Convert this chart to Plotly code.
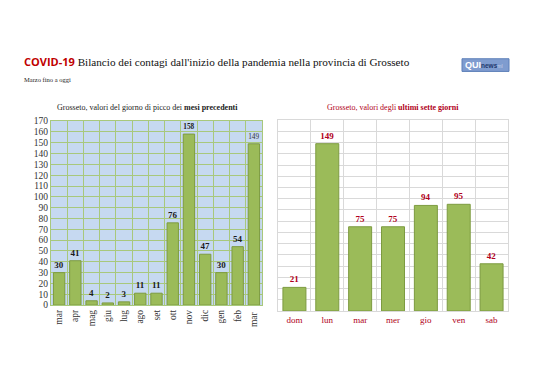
import plotly.graph_objects as go

# Data
months = ["mar", "apr", "mag", "giu", "lug", "ago", "set", "ott", "nov", "dic", "gen", "feb", "mar "]
month_values = [30, 41, 4, 2, 3, 11, 11, 76, 158, 47, 30, 54, 149]
days = ["dom", "lun", "mar", "mer", "gio", "ven", "sab"]
day_values = [21, 149, 75, 75, 94, 95, 42]

W, H = 538, 380
BAR = "#9bbb59"
BAR_LINE = "#7d9b40"
DARKRED = "#b00020"
SERIF = "Liberation Serif, DejaVu Serif, serif"

def px(x):
    return x / W

def py(y):
    return 1 - y / H

month_text = ["<b>%d</b>" % v for v in month_values[:-1]] + ["<span style='color:#333333'>%d</span>" % month_values[-1]]

fig = go.Figure()
fig.add_trace(go.Bar(
    x=months, y=month_values, xaxis="x", yaxis="y",
    marker=dict(color=BAR, line=dict(color=BAR_LINE, width=1)),
    text=month_text, textposition="outside", cliponaxis=False,
    textfont=dict(family=SERIF, size=9, color="#1a1a1a"),
    showlegend=False, hoverinfo="x+y",
))
fig.add_trace(go.Bar(
    x=days, y=day_values, xaxis="x2", yaxis="y2",
    marker=dict(color=BAR, line=dict(color=BAR_LINE, width=1)),
    text=["<b>%d</b>" % v for v in day_values], textposition="outside", cliponaxis=False,
    textfont=dict(family=SERIF, size=9, color=DARKRED),
    showlegend=False, hoverinfo="x+y",
))

fig.update_layout(
    width=W, height=H,
    margin=dict(l=0, r=0, t=0, b=0),
    paper_bgcolor="white",
    plot_bgcolor="white",
    bargap=0.3,
    xaxis=dict(domain=[px(43), px(254)], anchor="y", type="category",
               tickson="boundaries", showgrid=True, gridcolor="#a8c87c", gridwidth=1,
               tickangle=-90, tickfont=dict(family=SERIF, size=9.5, color="#333333"),
               showline=True, linecolor="#a8c87c", mirror=True, ticks="", ticklen=0),
    yaxis=dict(domain=[py(300), py(111)], anchor="x", range=[0, 170], dtick=10,
               showgrid=True, gridcolor="#a8c87c", gridwidth=1,
               tickfont=dict(family=SERIF, size=9.5, color="#333333"),
               showline=True, linecolor="#a8c87c", mirror=True, zeroline=False, ticks=""),
    xaxis2=dict(domain=[px(270), px(500)], anchor="y2", type="category",
                tickson="boundaries", showgrid=True, gridcolor="#d9d9d9", gridwidth=1,
                tickfont=dict(family=SERIF, size=9, color=DARKRED),
                showline=True, linecolor="#d9d9d9", mirror=True, ticks=""),
    yaxis2=dict(domain=[py(306), py(110)], anchor="x2", range=[0, 170], dtick=10,
                showgrid=True, gridcolor="#d9d9d9", gridwidth=1, showticklabels=False,
                showline=True, linecolor="#d9d9d9", mirror=True, zeroline=False, ticks=""),
)

# blue background for left plot area
fig.add_shape(type="rect", xref="x domain", yref="y domain", x0=0, x1=1, y0=0, y1=1,
              fillcolor="#c6d9f1", line=dict(width=0), layer="below")

ann = []
ann.append(dict(x=px(14), y=py(50), xref="paper", yref="paper", xanchor="left", yanchor="middle",
                showarrow=False,
                text="<span style='font-family:Open Sans, Liberation Sans, sans-serif;color:#c00000;font-size:11px'><b>COVID-19</b></span> "
                     "Bilancio dei contagi dall'inizio della pandemia nella provincia di Grosseto",
                font=dict(family=SERIF, size=11.2, color="#111111")))
ann.append(dict(x=px(14), y=py(68), xref="paper", yref="paper", xanchor="left", yanchor="middle",
                showarrow=False, text="Marzo fino a oggi",
                font=dict(family=SERIF, size=6.5, color="#222222")))
ann.append(dict(x=px(139), y=py(97), xref="paper", yref="paper", xanchor="center", yanchor="middle",
                showarrow=False, text="Grosseto, valori del giorno di picco dei <b>mesi precedenti</b>",
                font=dict(family=SERIF, size=8, color="#222222")))
ann.append(dict(x=px(385), y=py(97), xref="paper", yref="paper", xanchor="center", yanchor="middle",
                showarrow=False, text="Grosseto, valori degli <b>ultimi sette giorni</b>",
                font=dict(family=SERIF, size=8, color=DARKRED)))
# logo
fig.add_shape(type="rect", xref="paper", yref="paper", x0=px(454), x1=px(501), y0=py(60), y1=py(47),
              fillcolor="#7f9ccf", line=dict(color="#5d7fb8", width=1))
ann.append(dict(x=px(455), y=py(53.5), xref="paper", yref="paper", xanchor="left", yanchor="middle",
                showarrow=False,
                text="<b>QUI</b><span style='color:#1f3a6e;font-size:6.5px'><b>news</b></span><span style='color:#c8d4ea;font-size:5px'>ml</span>",
                font=dict(family="Liberation Sans, sans-serif", size=9, color="white")))
fig.update_layout(annotations=ann)

fig.write_html("out.html")
